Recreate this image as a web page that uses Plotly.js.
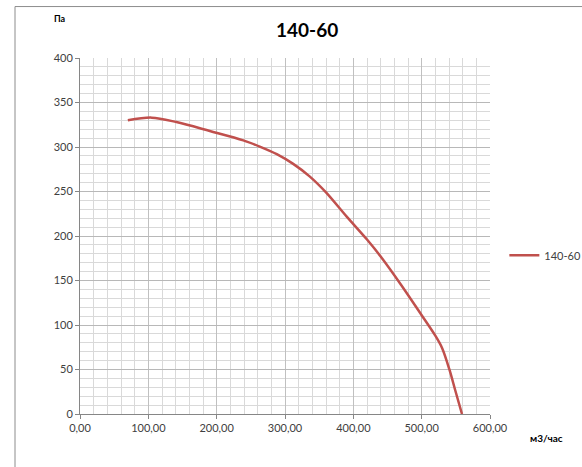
<!DOCTYPE html>
<html>
<head>
<meta charset="utf-8">
<script src="https://cdn.plot.ly/plotly-3.0.1.min.js"></script>
<style>html,body{margin:0;padding:0;background:#fff;}#chart{width:582px;height:467px;}</style>
</head>
<body>
<div id="chart"></div>
<script>
const seriesName = "140-60";
const flow = [70, 105, 141, 190, 239, 263, 288, 312, 336, 360, 390, 420, 440, 470, 500, 520, 530, 541, 549, 559];
const pressure = [330, 333, 328, 318, 307.5, 300.5, 292, 281, 267, 249, 222, 196, 177, 145, 111, 88, 74, 49, 27, 0];
const xTitle = "м3/час";
const yTitle = "Па";
const chartTitle = "140-60";

const font = "Lato, 'Open Sans', sans-serif";
const trace = {
  x: flow, y: pressure, type: 'scatter', mode: 'lines', name: seriesName,
  line: {color: '#c0504d', width: 2.5, shape: 'spline', smoothing: 0.9}
};
const layout = {
  width: 582, height: 467,
  margin: {l: 80, r: 92, t: 58, b: 53, autoexpand: false},
  paper_bgcolor: '#fff', plot_bgcolor: '#fff',
  separators: ', ',
  font: {family: font, color: '#404040', size: 11},
  title: {text: chartTitle, font: {family: font, size: 19, color: '#000', weight: 'bold'},
          xref: 'paper', x: 0.554, xanchor: 'center', yref: 'container', y: 0.934, yanchor: 'middle'},
  showlegend: true,
  legend: {x: 1.035, xanchor: 'left', y: 0.446, yanchor: 'middle', font: {size: 11, color: '#404040'},
           bgcolor: 'rgba(0,0,0,0)', itemwidth: 30, tracegroupgap: 0},
  xaxis: {range: [0, 600], dtick: 100, tickformat: '.2f', showgrid: true, gridcolor: '#c0c0c0', gridwidth: 1,
          minor: {dtick: 20, showgrid: true, gridcolor: '#d9d9d9', gridwidth: 1},
          showline: true, linecolor: '#868686', linewidth: 1, ticks: 'outside', ticklen: 4, tickcolor: '#868686',
          zeroline: false, fixedrange: true, tickfont: {size: 11, color: '#404040'}},
  yaxis: {range: [0, 400], dtick: 50, showgrid: true, gridcolor: '#b8b8b8', gridwidth: 1,
          minor: {dtick: 10, showgrid: true, gridcolor: '#d9d9d9', gridwidth: 1},
          showline: true, linecolor: '#868686', linewidth: 1, ticks: 'outside', ticklen: 4, tickcolor: '#868686',
          zeroline: false, fixedrange: true, tickfont: {size: 11, color: '#404040'}},
  annotations: [
    {text: '<b>' + yTitle + '</b>', xref: 'paper', yref: 'paper', x: -0.0488, y: 1.1108, xanchor: 'center', yanchor: 'middle',
     showarrow: false, font: {size: 9, color: '#000', family: font}},
    {text: '<b>' + xTitle + '</b>', xref: 'paper', yref: 'paper', x: 1.139, y: -0.0673, xanchor: 'center', yanchor: 'middle',
     showarrow: false, font: {size: 10, color: '#000', family: font}}
  ],
  shapes: [
    {type: 'line', xref: 'paper', yref: 'paper', x0: -0.1585, x1: 1.25, y0: 1.1445, y1: 1.1445, line: {color: '#8c8c8c', width: 1}},
    {type: 'line', xref: 'paper', yref: 'paper', x0: -0.1585, x1: -0.1585, y0: 1.1445, y1: -0.2, line: {color: '#8c8c8c', width: 1}}
  ]
};
Plotly.newPlot('chart', [trace], layout, {displayModeBar: false, staticPlot: true});
</script>
</body>
</html>
